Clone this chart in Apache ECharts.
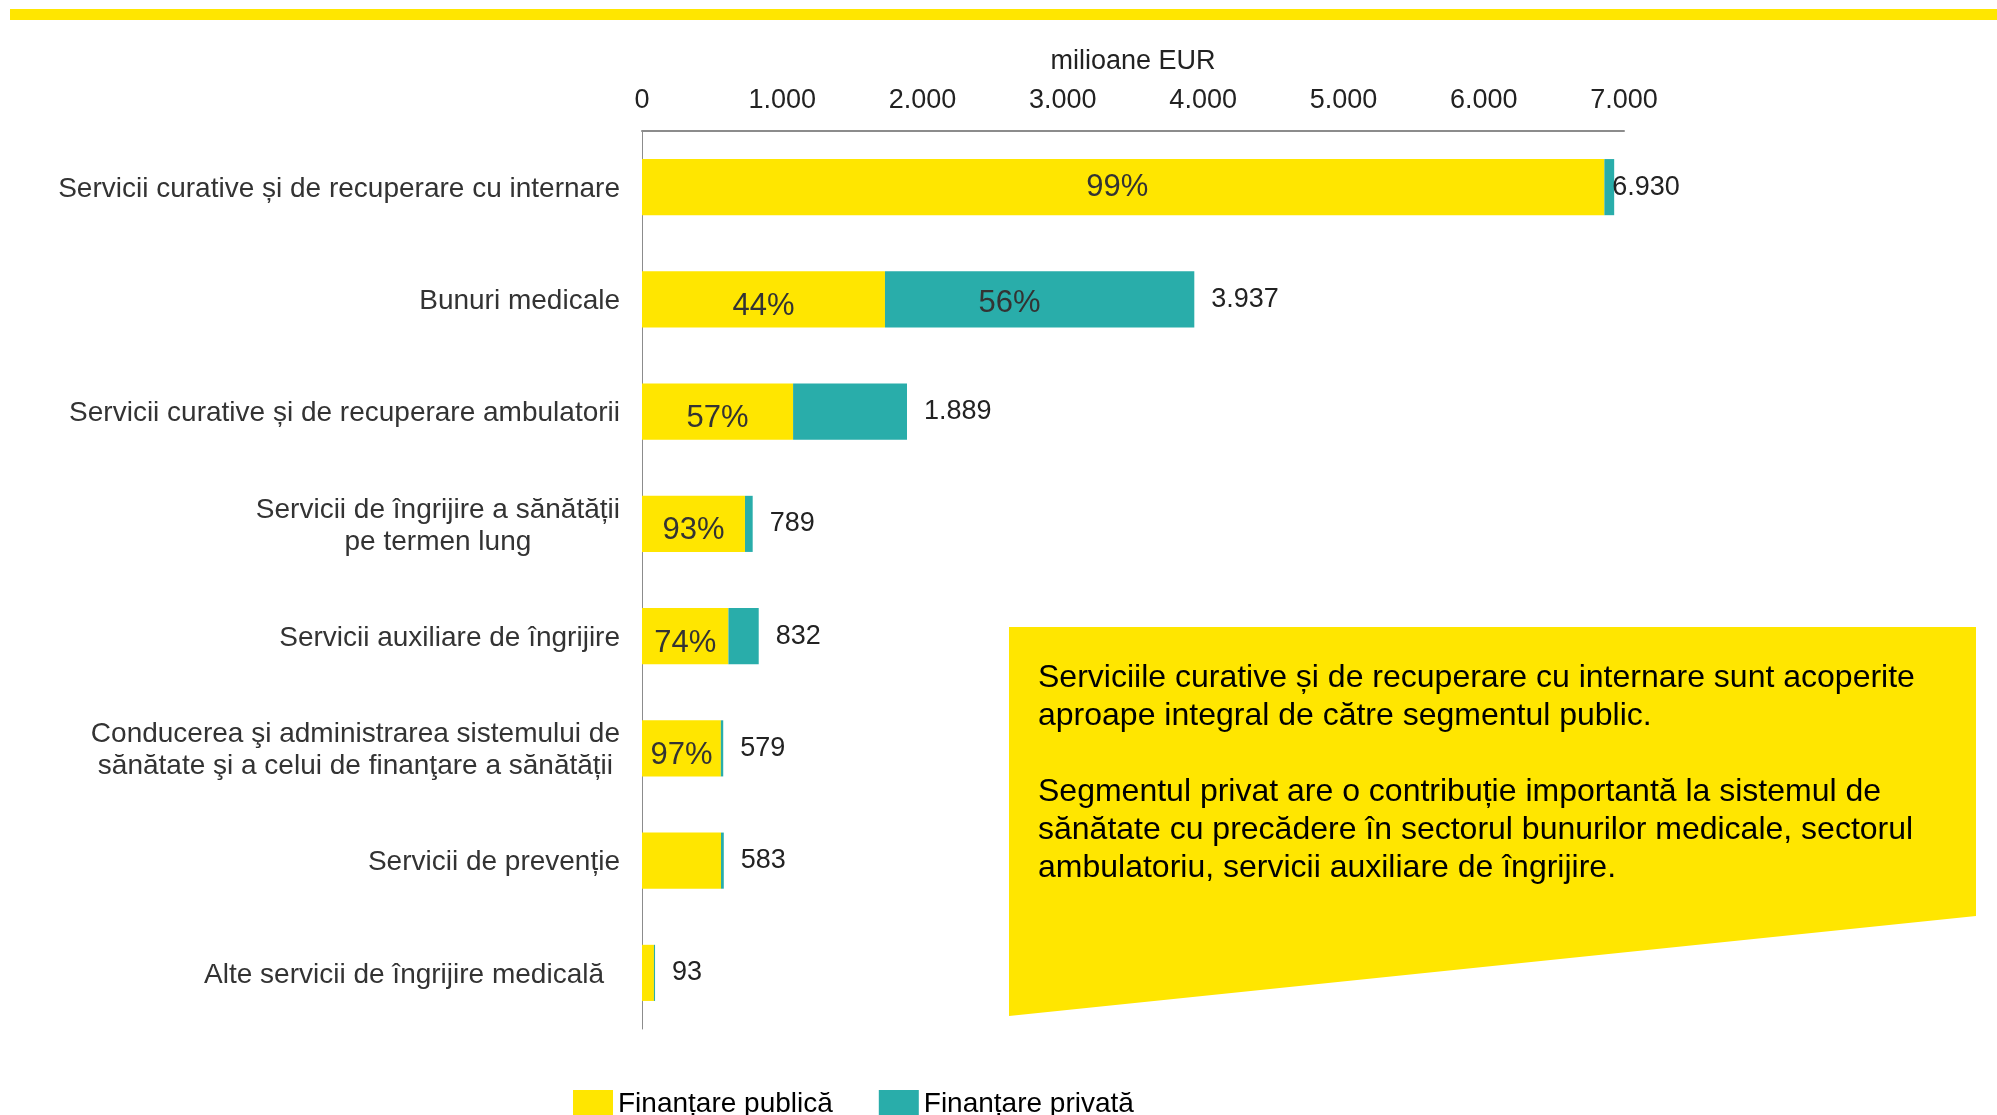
<!DOCTYPE html>
<html>
<head>
<meta charset="utf-8">
<script src="https://cdn.jsdelivr.net/npm/echarts@6/dist/echarts.min.js"></script>
<style>
  html, body { margin: 0; padding: 0; background: #fff; }
  #chart { width: 1997px; height: 1115px; }
</style>
</head>
<body>
<div id="chart"></div>
<script>
  const FONT = 'Liberation Sans, Arial, sans-serif'
  const YELLOW = '#FFE600'
  const TEAL = '#29ADAA'

  const categories = [
    'Servicii curative și de recuperare cu internare',
    'Bunuri medicale',
    'Servicii curative și de recuperare ambulatorii',
    'Servicii de îngrijire a sănătății\npe termen lung',
    'Servicii auxiliare de îngrijire',
    'Conducerea şi administrarea sistemului de\nsănătate şi a celui de finanţare a sănătății',
    'Servicii de prevenție',
    'Alte servicii de îngrijire medicală'
  ]
  const publicVals = [6860, 1732, 1077, 734, 616, 562, 563, 85]
  const privateVals = [70, 2205, 812, 55, 216, 17, 20, 8]
  const publicPct = ['99%', '44%', '57%', '93%', '74%', '97%', '', '']
  const privatePct = ['', '56%', '', '', '', '', '', '']
  const xTicks = [0, 1000, 2000, 3000, 4000, 5000, 6000, 7000]

  const seriesNames = ['Finanțare publică', 'Finanțare privată']
  const noteText =
    'Serviciile curative și de recuperare cu internare sunt acoperite\n' +
    'aproape integral de către segmentul public.\n' +
    '\n' +
    'Segmentul privat are o contribuție importantă la sistemul de\n' +
    'sănătate cu precădere în sectorul bunurilor medicale, sectorul\n' +
    'ambulatoriu, servicii auxiliare de îngrijire.'

  // 1.000 style thousands
  function fmt(v) {
    return String(v).replace(/\B(?=(\d{3})+(?!\d))/g, '.')
  }

  const totals = publicVals.map((v, i) => v + privateVals[i])

  const chart = echarts.init(document.getElementById('chart'))
  chart.setOption({
    backgroundColor: '#fff',
    animation: false,
    textStyle: { fontFamily: FONT },
    grid: { left: 642, right: 373, top: 131, bottom: 86, containLabel: false },
    legend: {
      left: 568,
      top: 1085,
      itemWidth: 40,
      itemHeight: 28,
      itemGap: 46,
      icon: 'rect',
      textStyle: { fontSize: 28, color: '#000', fontFamily: FONT },
      data: seriesNames
    },
    xAxis: {
      type: 'value',
      position: 'top',
      min: xTicks[0],
      max: xTicks[xTicks.length - 1],
      interval: xTicks[1] - xTicks[0],
      name: 'milioane EUR',
      nameLocation: 'middle',
      nameGap: 56,
      nameTextStyle: { fontSize: 27, color: '#222', fontFamily: FONT },
      axisLine: { show: true, lineStyle: { color: '#8c8c8c', width: 2 } },
      axisTick: { show: false },
      splitLine: { show: false },
      axisLabel: {
        margin: 17,
        fontSize: 27,
        color: '#222',
        fontFamily: FONT,
        formatter: fmt
      }
    },
    yAxis: {
      type: 'category',
      inverse: true,
      data: categories,
      axisLine: { show: true, lineStyle: { color: '#8c8c8c', width: 1 } },
      axisTick: { show: false },
      axisLabel: {
        margin: 22,
        formatter: function (v) {
          const key = v.indexOf('Alte') === 0 ? 'p' : 'c'
          return v.split('\n').map(s => '{' + key + '|' + s + '}').join('\n')
        },
        rich: {
          c: { fontSize: 28, color: '#333', fontFamily: FONT, align: 'center', lineHeight: 32, padding: [4, 0, 0, 0] },
          p: { fontSize: 28, color: '#333', fontFamily: FONT, align: 'center', lineHeight: 32, padding: [4, 16, 0, 0] }
        }
      }
    },
    series: [
      {
        name: seriesNames[0],
        type: 'bar',
        stack: 'total',
        barWidth: '50%',
        itemStyle: { color: YELLOW },
        label: {
          show: true,
          position: 'inside',
          offset: [0, 7],
          fontSize: 31,
          color: '#333',
          fontFamily: FONT,
          formatter: p => publicPct[p.dataIndex]
        },
        data: publicVals.map((v, i) => (i === 0 ? { value: v, label: { offset: [-6, 0] } } : v))
      },
      {
        name: seriesNames[1],
        type: 'bar',
        stack: 'total',
        barWidth: '50%',
        itemStyle: { color: TEAL },
        label: {
          show: true,
          position: 'right',
          distance: 17,
          fontSize: 27,
          color: '#222',
          fontFamily: FONT,
          formatter: p => fmt(totals[p.dataIndex])
        },
        data: privateVals.map((v, i) => (i === 0 ? { value: v, label: { distance: -2 } } : v))
      },
      {
        // invisible copy so the private share can carry its own label
        type: 'bar',
        stack: 'pct',
        barWidth: '50%',
        barGap: '-100%',
        silent: true,
        itemStyle: { color: 'transparent' },
        label: { show: false },
        data: publicVals
      },
      {
        type: 'bar',
        stack: 'pct',
        barWidth: '50%',
        silent: true,
        itemStyle: { color: 'transparent' },
        label: {
          show: true,
          position: 'inside',
          offset: [-30, 4],
          fontSize: 31,
          color: '#333',
          fontFamily: FONT,
          formatter: p => privatePct[p.dataIndex]
        },
        data: privateVals
      }
    ],
    graphic: [
      {
        type: 'rect',
        silent: true,
        shape: { x: 10, y: 9, width: 1987, height: 11 },
        style: { fill: YELLOW }
      },
      {
        type: 'polygon',
        silent: true,
        shape: { points: [[1009, 627], [1976, 627], [1976, 916], [1009, 1016]] },
        style: { fill: YELLOW }
      },
      {
        type: 'text',
        silent: true,
        x: 1038,
        y: 659,
        style: {
          text: noteText,
          font: '32px ' + FONT,
          lineHeight: 38,
          fill: '#000'
        }
      }
    ]
  })
</script>
</body>
</html>
